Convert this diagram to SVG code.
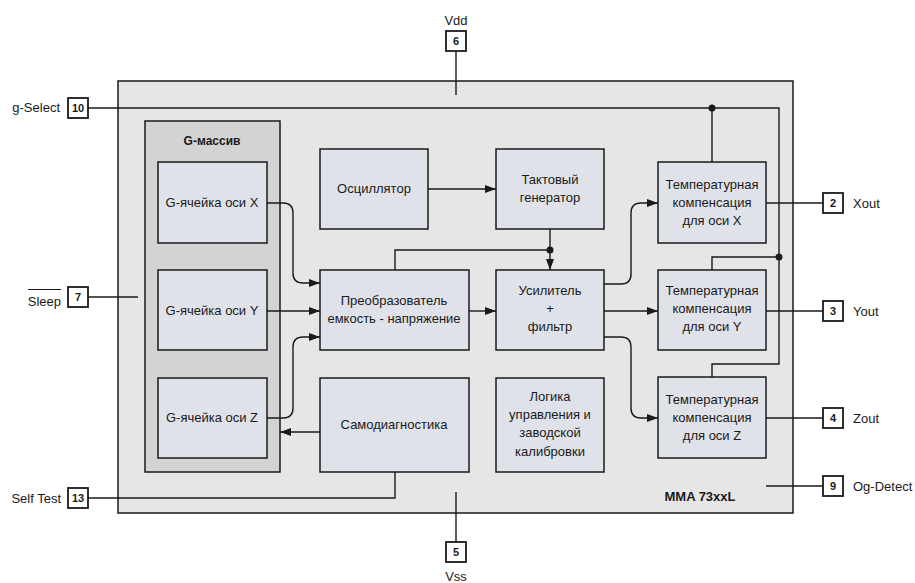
<svg xmlns="http://www.w3.org/2000/svg" width="915" height="583" viewBox="0 0 915 583">
<defs>
<style>
text{font-family:"Liberation Sans",Arial,sans-serif;font-size:13px;fill:#1a1a1a}
.c{text-anchor:middle}
.b{font-weight:bold}
.pin{font-size:11px;font-weight:bold;text-anchor:middle}
.blk{fill:#dfe2e9;stroke:#1a1a1a;stroke-width:1.5}
.pbox{fill:#fff;stroke:#1a1a1a;stroke-width:1.8}
.w{fill:none;stroke:#1a1a1a;stroke-width:1.4}
.a{marker-end:url(#ah)}
</style>
<marker id="ah" markerWidth="11" markerHeight="8" refX="11" refY="4" orient="auto" markerUnits="userSpaceOnUse">
<path d="M0,0 L11,4 L0,8 z" fill="#1a1a1a"/>
</marker>
</defs>
<rect width="915" height="583" fill="#fff"/>
<g id="chip">
<rect x="118" y="81" width="675" height="432" fill="#e6e6e7" stroke="#1a1a1a" stroke-width="1.5"/>
<text x="700" y="501" class="c b">MMA 73xxL</text>
</g>
<g id="g-array">
<rect x="145" y="121" width="135" height="351" fill="#d3d3d4" stroke="#1a1a1a" stroke-width="1.5"/>
<text x="212" y="145" class="c b" style="font-size:12px">G-массив</text>
</g>
<g id="cell-x"><rect x="158" y="162" width="109" height="81" class="blk"/><text x="212" y="207" class="c">G-ячейка оси X</text></g>
<g id="cell-y"><rect x="158" y="270" width="109" height="80" class="blk"/><text x="212" y="315" class="c">G-ячейка оси Y</text></g>
<g id="cell-z"><rect x="158" y="378" width="109" height="80" class="blk"/><text x="212" y="422" class="c">G-ячейка оси Z</text></g>
<g id="osc"><rect x="320" y="149" width="108" height="80" class="blk"/><text x="374" y="193" class="c">Осциллятор</text></g>
<g id="clock"><rect x="496" y="149" width="108" height="80" class="blk"/><text x="550" y="184" class="c">Тактовый</text><text x="550" y="202" class="c">генератор</text></g>
<g id="conv"><rect x="320" y="270" width="149" height="80" class="blk"/><text x="394" y="305" class="c">Преобразователь</text><text x="394" y="323" class="c">емкость - напряжение</text></g>
<g id="amp"><rect x="496" y="270" width="108" height="80" class="blk"/><text x="550" y="295" class="c">Усилитель</text><text x="550" y="313" class="c">+</text><text x="550" y="331" class="c">фильтр</text></g>
<g id="selftest-blk"><rect x="320" y="378" width="149" height="94" class="blk"/><text x="394" y="429" class="c">Самодиагностика</text></g>
<g id="logic"><rect x="496" y="378" width="108" height="94" class="blk"/><text x="550" y="401" class="c">Логика</text><text x="550" y="419" class="c">управления и</text><text x="550" y="437" class="c">заводской</text><text x="550" y="456" class="c">калибровки</text></g>
<g id="tc-x"><rect x="658" y="162" width="108" height="81" class="blk"/><text x="712" y="189" class="c">Температурная</text><text x="712" y="207" class="c">компенсация</text><text x="712" y="225" class="c">для оси X</text></g>
<g id="tc-y"><rect x="658" y="270" width="108" height="80" class="blk"/><text x="712" y="295" class="c">Температурная</text><text x="712" y="313" class="c">компенсация</text><text x="712" y="331" class="c">для оси Y</text></g>
<g id="tc-z"><rect x="658" y="377" width="108" height="81" class="blk"/><text x="712" y="404" class="c">Температурная</text><text x="712" y="422" class="c">компенсация</text><text x="712" y="440" class="c">для оси Z</text></g>
<g id="connectors">
<path class="w a" d="M428,189 H496"/>
<path class="w a" d="M550,229 V270"/>
<path class="w" d="M550,250 H395 V270"/>
<circle cx="550" cy="250" r="3.5" fill="#1a1a1a"/>
<path class="w a" d="M267,203 H283 Q293,203 293,213 V273 Q293,283 303,283 H320"/>
<path class="w a" d="M267,311 H320"/>
<path class="w a" d="M267,418 H283 Q293,418 293,408 V347 Q293,337 303,337 H320"/>
<path class="w a" d="M320,432 H280"/>
<path class="w a" d="M469,311 H496"/>
<path class="w a" d="M604,311 H658"/>
<path class="w a" d="M604,284 H621 Q631,284 631,274 V213 Q631,203 641,203 H658"/>
<path class="w a" d="M604,337 H621 Q631,337 631,347 V408 Q631,418 641,418 H658"/>
<path class="w" d="M88,108 H779 V364 H712 V377"/>
<path class="w" d="M712,108 V162"/>
<path class="w" d="M779,257 H712 V270"/>
<circle cx="712" cy="108" r="3.5" fill="#1a1a1a"/>
<circle cx="779" cy="257" r="3.5" fill="#1a1a1a"/>
<path class="w" d="M766,203 H823"/>
<path class="w" d="M766,311 H823"/>
<path class="w" d="M766,418 H823"/>
<path class="w" d="M766,486 H823"/>
<path class="w" d="M88,498 H395 V472"/>
<path class="w" d="M88,297 H138"/>
<path class="w" d="M456,51 V95"/>
<path class="w" d="M456,492 V542"/>
</g>
<g id="pin-6"><rect x="446" y="31" width="20" height="20" class="pbox"/><text x="456" y="45" class="pin">6</text><text x="456" y="25" class="c">Vdd</text></g>
<g id="pin-5"><rect x="446" y="542" width="20" height="20" class="pbox"/><text x="456" y="556" class="pin">5</text><text x="456" y="581" class="c">Vss</text></g>
<g id="pin-10"><rect x="68" y="98" width="20" height="20" class="pbox"/><text x="78" y="112" class="pin">10</text><text x="60" y="112" style="text-anchor:end">g-Select</text></g>
<g id="pin-7"><rect x="68" y="287" width="20" height="20" class="pbox"/><text x="78" y="301" class="pin">7</text><text x="61" y="306" style="text-anchor:end">Sleep</text><path d="M28,289.5 H61" stroke="#1a1a1a" stroke-width="1.2"/></g>
<g id="pin-13"><rect x="68" y="488" width="20" height="20" class="pbox"/><text x="78" y="502" class="pin">13</text><text x="61" y="503" style="text-anchor:end">Self Test</text></g>
<g id="pin-2"><rect x="823" y="193" width="20" height="20" class="pbox"/><text x="833" y="207" class="pin">2</text><text x="853" y="208">Xout</text></g>
<g id="pin-3"><rect x="823" y="301" width="20" height="20" class="pbox"/><text x="833" y="315" class="pin">3</text><text x="853" y="316">Yout</text></g>
<g id="pin-4"><rect x="823" y="408" width="20" height="20" class="pbox"/><text x="833" y="422" class="pin">4</text><text x="853" y="423">Zout</text></g>
<g id="pin-9"><rect x="823" y="476" width="20" height="20" class="pbox"/><text x="833" y="490" class="pin">9</text><text x="853" y="491">Og-Detect</text></g>
</svg>
